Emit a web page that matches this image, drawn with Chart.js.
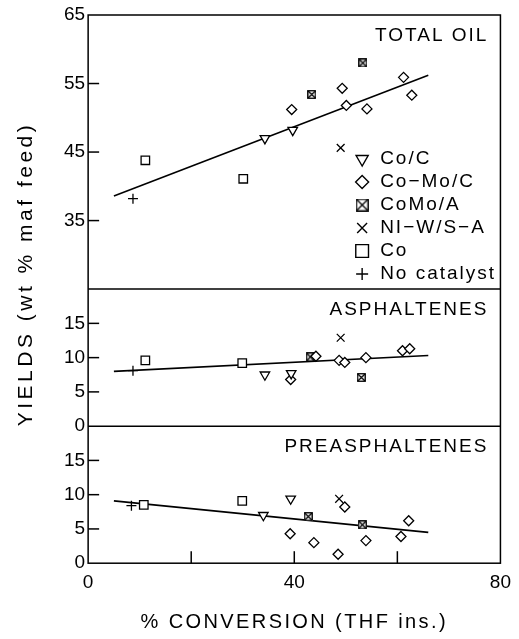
<!DOCTYPE html>
<html>
<head>
<meta charset="utf-8">
<script src="https://cdn.jsdelivr.net/npm/chart.js@4.4.0/dist/chart.umd.min.js"></script>
<style>
  html, body { margin: 0; padding: 0; background: #fff; }
</style>
</head>
<body>
<canvas id="yieldChart" width="519" height="639"></canvas>
<script>
// x = % conversion (THF ins.), y = yield (wt % maf feed)
const catalystNames = ["Co/C", "Co\u2212Mo/C", "CoMo/A", "NI\u2212W/S\u2212A", "Co", "No catalyst"];
const panelTitles = ["TOTAL OIL", "ASPHALTENES", "PREASPHALTENES"];
const xTickLabels = [0, 40, 80];

// total oil
const oilCoC = [[34.3, 47.0], [39.7, 48.2]];
const oilCoMoC = [[39.5, 51.2], [49.3, 54.3], [50.1, 51.8], [54.1, 51.3], [61.2, 55.9], [62.8, 53.3]];
const oilCoMoA = [[43.4, 53.4], [53.3, 58.0]];
const oilNiW = [[49.0, 45.6]];
const oilCo = [[11.1, 43.8], [30.1, 41.1]];
const oilNone = [[8.7, 38.2]];
const oilFit = [[5, 38.6], [66, 56.2]];

// asphaltenes
const asphCoC = [[34.3, 7.5], [39.4, 7.7]];
const asphCoMoC = [[39.3, 6.8], [44.2, 10.2], [48.7, 9.6], [49.8, 9.3], [53.9, 10.0], [61.0, 11.0], [62.4, 11.3]];
const asphCoMoA = [[43.1, 10.1], [53.0, 7.1]];
const asphNiW = [[49.0, 12.9]];
const asphCo = [[11.1, 9.6], [29.9, 9.2]];
const asphNone = [[8.7, 8.1]];
const asphFit = [[5, 8.0], [66, 10.3]];

// preasphaltenes
const preCoC = [[34.0, 7.0], [39.3, 9.4]];
const preCoMoC = [[39.2, 4.3], [43.8, 3.0], [48.5, 1.3], [49.8, 8.2], [53.9, 3.3], [60.7, 3.9], [62.2, 6.2]];
const preCoMoA = [[42.7, 6.8], [53.2, 5.6]];
const preNiW = [[48.7, 9.4]];
const preCo = [[10.8, 8.5], [29.9, 9.1]];
const preNone = [[8.4, 8.4]];
const preFit = [[5, 9.1], [66, 4.5]];

const FONT = "'Liberation Sans', Arial, sans-serif";

function boxCross(size) {
  const c = document.createElement("canvas");
  c.width = c.height = size;
  const g = c.getContext("2d");
  g.fillStyle = "#fff";
  g.fillRect(0, 0, size, size);
  g.strokeStyle = "#000";
  g.lineWidth = 1.3;
  g.strokeRect(0.75, 0.75, size - 1.5, size - 1.5);
  g.beginPath();
  g.moveTo(1, 1); g.lineTo(size - 1, size - 1);
  g.moveTo(size - 1, 1); g.lineTo(1, size - 1);
  g.stroke();
  return c;
}

// marker look per catalyst, same order as catalystNames
const markers = [
  { pointStyle: "triangle", rotation: 180, radius: 5.5, legendRadius: 7 },
  { pointStyle: "rectRot", rotation: 0, radius: 5, legendRadius: 6.5 },
  { pointStyle: boxCross(9), rotation: 0, radius: 5, legendImg: boxCross(13) },
  { pointStyle: "crossRot", rotation: 0, radius: 5.5, legendRadius: 7 },
  { pointStyle: "rect", rotation: 0, radius: 6, legendRadius: 9 },
  { pointStyle: "cross", rotation: 0, radius: 5, legendRadius: 6 },
];

const panels = [
  { id: "yOil", sets: [oilCoC, oilCoMoC, oilCoMoA, oilNiW, oilCo, oilNone], fit: oilFit },
  { id: "yAsph", sets: [asphCoC, asphCoMoC, asphCoMoA, asphNiW, asphCo, asphNone], fit: asphFit },
  { id: "yPre", sets: [preCoC, preCoMoC, preCoMoA, preNiW, preCo, preNone], fit: preFit },
];

const pts = (arr) => arr.map(([x, y]) => ({ x, y }));

const datasets = [];
panels.forEach((p) => {
  datasets.push({
    data: pts(p.fit),
    yAxisID: p.id,
    showLine: true,
    borderColor: "#000",
    borderWidth: 1.6,
    pointRadius: 0,
    order: 10,
  });
  p.sets.forEach((set, i) => {
    const m = markers[i];
    datasets.push({
      label: catalystNames[i],
      data: pts(set),
      yAxisID: p.id,
      showLine: false,
      pointStyle: m.pointStyle,
      rotation: m.rotation,
      pointRadius: m.radius,
      pointBorderWidth: 1.3,
      borderColor: "#000",
      backgroundColor: "#fff",
      order: 1,
    });
  });
});

const tickFont = { family: FONT, size: 19 };

function yScale(weight, stackWeight, min, max, step, hidden) {
  return {
    type: "linear",
    position: "left",
    stack: "yields",
    stackWeight: stackWeight,
    weight: weight,
    min: min,
    max: max,
    afterBuildTicks: (s) => { s.ticks = s.ticks.filter((t) => t.value !== hidden); },
    ticks: { stepSize: step, autoSkip: false, color: "#000", font: tickFont, padding: 3 },
    grid: { display: false, drawTicks: false },
    border: { display: false },
  };
}

const framePlugin = {
  id: "frame",
  afterDraw(chart) {
    const { ctx, chartArea: a, scales } = chart;
    const line = (x1, y1, x2, y2) => {
      ctx.beginPath(); ctx.moveTo(x1, y1); ctx.lineTo(x2, y2); ctx.stroke();
    };
    ctx.save();
    ctx.strokeStyle = "#000";
    ctx.fillStyle = "#000";
    ctx.lineWidth = 1.5;
    ctx.strokeRect(a.left, a.top, a.right - a.left, a.bottom - a.top);

    panels.forEach((p, k) => {
      const s = scales[p.id];
      if (k > 0) line(a.left, s.top, a.right, s.top);
      s.ticks.forEach((t) => {
        if (t.value > s.min && t.value < s.max) {
          const y = s.getPixelForValue(t.value);
          line(a.left, y, a.left + 11, y);
        }
      });
      ctx.font = "19px " + FONT;
      ctx.letterSpacing = "2px";
      ctx.textAlign = "right";
      ctx.textBaseline = "middle";
      ctx.fillText(panelTitles[k], a.right - 12, s.top + 21);
    });

    const sx = scales.x;
    sx.ticks.forEach((t) => {
      if (t.value > sx.min && t.value < sx.max) {
        const x = sx.getPixelForValue(t.value);
        line(x, a.bottom, x, a.bottom - 12);
      }
    });

    // legend inside the top panel
    const top = scales.yOil.top;
    catalystNames.forEach((name, i) => {
      const m = markers[i];
      const ly = top + 144 + i * 23;
      const lx = a.left + 274;
      ctx.lineWidth = 1.4;
      ctx.fillStyle = "#fff";
      ctx.strokeStyle = "#000";
      Chart.helpers.drawPoint(ctx, {
        pointStyle: m.legendImg || m.pointStyle,
        rotation: m.rotation,
        radius: m.legendRadius || 6,
        borderWidth: 1.4,
      }, lx, ly);
      ctx.fillStyle = "#000";
      ctx.font = "19px " + FONT;
      ctx.letterSpacing = "2px";
      ctx.textAlign = "left";
      ctx.textBaseline = "middle";
      ctx.fillText(name, a.left + 292, ly);
    });

    // axis titles
    ctx.font = "20px " + FONT;
    ctx.letterSpacing = "2.4px";
    ctx.textAlign = "center";
    ctx.textBaseline = "middle";
    ctx.fillText("% CONVERSION (THF ins.)", (a.left + a.right) / 2, 622);

    ctx.translate(26, a.top + 259);
    ctx.rotate(-Math.PI / 2);
    ctx.font = "21px " + FONT;
    ctx.letterSpacing = "3.5px";
    ctx.fillText("YIELDS (wt % maf feed)", 0, 0);
    ctx.restore();
  },
};

new Chart(document.getElementById("yieldChart"), {
  type: "scatter",
  data: { datasets: datasets },
  options: {
    responsive: false,
    animation: false,
    layout: { padding: { left: 61, right: 12, top: 15, bottom: 37 } },
    plugins: { legend: { display: false }, tooltip: { enabled: false } },
    scales: {
      x: {
        type: "linear",
        min: 0,
        max: 80,
        ticks: {
          stepSize: 20,
          autoSkip: false,
          maxRotation: 0,
          color: "#000",
          font: tickFont,
          padding: 8,
          callback: (v) => (xTickLabels.includes(v) ? String(v) : ""),
        },
        grid: { display: false, drawTicks: false },
        border: { display: false },
      },
      yOil: yScale(3, 40, 25, 65, 10, 25),
      yAsph: yScale(2, 20, 0, 20, 5, 20),
      yPre: yScale(1, 20, 0, 20, 5, 20),
    },
  },
  plugins: [framePlugin],
});
</script>
</body>
</html>
